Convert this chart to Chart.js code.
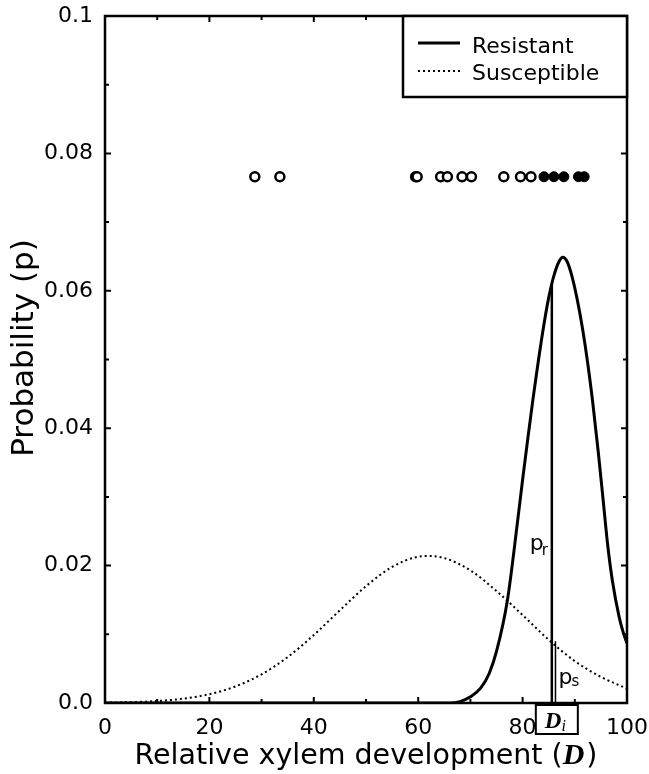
<!DOCTYPE html>
<html>
<head>
<meta charset="utf-8">
<script src="https://cdn.jsdelivr.net/npm/chart.js@4.4.1/dist/chart.umd.min.js"></script>
<style>
  html, body { margin: 0; padding: 0; background: #fff; }
  #wrap { width: 649px; height: 774px; position: relative; }
</style>
</head>
<body>
<div id="wrap"><canvas id="xylemChart"></canvas></div>
<script>
// probability curves
const susceptibleD = [0, 5, 10, 15, 20, 25, 30, 35, 40, 45, 50, 55, 60, 62, 65, 70, 75, 80, 85, 90, 95, 100];
const susceptibleP = [0.00005, 0.00012, 0.00029, 0.00063, 0.00128, 0.00241, 0.00418, 0.00669, 0.00989, 0.0135, 0.0170, 0.0198, 0.0213, 0.0214, 0.0211, 0.0193, 0.0163, 0.0128, 0.0092, 0.0061, 0.0038, 0.0021];

const resistantD = [0, 66, 68, 70, 72, 73.6, 75, 77.1, 79, 80, 81, 82, 83, 84, 85, 86, 87, 87.7, 88.5, 89.5, 90.5, 91.5, 92.5, 93.4, 94.5, 95.5, 96.3, 97.2, 98.5, 99.3, 100];
const resistantP = [0, 0, 0.0002, 0.0009, 0.0022, 0.0043, 0.0075, 0.015, 0.0262, 0.0325, 0.0385, 0.0443, 0.0497, 0.0547, 0.0590, 0.0622, 0.0643, 0.0649, 0.0643, 0.0620, 0.0586, 0.0544, 0.0493, 0.0440, 0.0365, 0.0290, 0.0230, 0.0178, 0.0125, 0.0102, 0.0087];

// observed clones (open = susceptible, filled = resistant)
const openD = [28.7, 33.5, 59.5, 59.8, 64.3, 65.6, 68.4, 70.2, 76.4, 79.6, 81.6];
const filledD = [84.1, 86.0, 87.9, 90.7, 91.8];
const observedLevel = 0.0766;

// D_i marker and the two probabilities read at it
const diD = 85.6;
const prValue = 0.061;
const psD = 86.3;
const psValue = 0.0090;

const xTickStep = 20;
const yTickStep = 0.02;

const pts = (xs, ys) => xs.map((d, i) => ({ x: d, y: ys[i] }));

const framePlugin = {
  id: 'frame',
  afterDraw(chart) {
    const ctx = chart.ctx;
    const a = chart.chartArea;
    const x = chart.scales.x;
    const y = chart.scales.y;
    ctx.save();
    ctx.strokeStyle = '#000';
    ctx.fillStyle = '#000';
    ctx.lineWidth = 2.5;
    ctx.strokeRect(a.left, a.top, a.right - a.left, a.bottom - a.top);

    // inward ticks on all four sides
    ctx.lineWidth = 2;
    ctx.beginPath();
    for (let v = 0; v <= 100; v += 10) {
      const px = x.getPixelForValue(v);
      const len = v % xTickStep === 0 ? 6 : 4;
      ctx.moveTo(px, a.bottom); ctx.lineTo(px, a.bottom - len);
      ctx.moveTo(px, a.top); ctx.lineTo(px, a.top + len);
    }
    for (let i = 0; i <= 10; i++) {
      const py = y.getPixelForValue(i * 0.01);
      const len = i % 2 === 0 ? 6 : 4;
      ctx.moveTo(a.left, py); ctx.lineTo(a.left + len, py);
      ctx.moveTo(a.right, py); ctx.lineTo(a.right - len, py);
    }
    ctx.stroke();

    // legend box
    const lx = a.right - 224, ly = a.top, lw = 224, lh = 81;
    ctx.fillStyle = '#fff';
    ctx.fillRect(lx, ly, lw, lh);
    ctx.lineWidth = 2.5;
    ctx.strokeRect(lx, ly, lw, lh);
    ctx.fillStyle = '#000';
    ctx.font = '22px "DejaVu Sans"';
    ctx.textBaseline = 'alphabetic';
    ctx.textAlign = 'left';
    ctx.lineWidth = 3;
    ctx.beginPath(); ctx.moveTo(lx + 15, ly + 27); ctx.lineTo(lx + 57, ly + 27); ctx.stroke();
    ctx.fillText(chart.data.datasets[0].label, lx + 69, ly + 37);
    ctx.lineWidth = 2;
    ctx.setLineDash([2, 3]);
    ctx.beginPath(); ctx.moveTo(lx + 15, ly + 55); ctx.lineTo(lx + 57, ly + 55); ctx.stroke();
    ctx.setLineDash([]);
    ctx.fillText(chart.data.datasets[1].label, lx + 69, ly + 64);

    // p_r and p_s labels
    const dpx = x.getPixelForValue(diD);
    ctx.font = '22px "DejaVu Sans"';
    ctx.fillText('p', dpx - 22, y.getPixelForValue(0.0222));
    ctx.font = '15px "DejaVu Sans"';
    ctx.fillText('r', dpx - 10, y.getPixelForValue(0.0215));
    const spx = x.getPixelForValue(psD);
    ctx.font = '22px "DejaVu Sans"';
    ctx.fillText('p', spx + 3, y.getPixelForValue(0.0028));
    ctx.font = '15px "DejaVu Sans"';
    ctx.fillText('s', spx + 16, y.getPixelForValue(0.0025));

    // D_i box under the axis
    ctx.lineWidth = 2;
    ctx.fillStyle = '#fff';
    ctx.fillRect(dpx - 16, a.bottom + 2, 42, 29);
    ctx.strokeRect(dpx - 16, a.bottom + 2, 42, 29);
    ctx.fillStyle = '#000';
    ctx.font = 'bold italic 23px "Liberation Serif"';
    ctx.fillText('D', dpx - 7, a.bottom + 25);
    const dw = ctx.measureText('D').width;
    ctx.font = 'italic 16px "Liberation Serif"';
    ctx.fillText('i', dpx - 7 + dw, a.bottom + 28);

    // x title with italic D
    const t1 = 'Relative xylem development (';
    const t2 = 'D';
    const t3 = ')';
    const f1 = '28.5px "DejaVu Sans"';
    const f2 = 'bold italic 30px "Liberation Serif"';
    ctx.font = f1;
    const w1 = ctx.measureText(t1).width;
    const w3 = ctx.measureText(t3).width;
    ctx.font = f2;
    const w2 = ctx.measureText(t2).width + 2;
    let tx = (a.left + a.right) / 2 - (w1 + w2 + w3) / 2;
    const ty = 764;
    ctx.font = f1; ctx.fillText(t1, tx, ty); tx += w1;
    ctx.font = f2; ctx.fillText(t2, tx, ty); tx += w2;
    ctx.font = f1; ctx.fillText(t3, tx, ty);

    // y title
    ctx.translate(33, 348);
    ctx.rotate(-Math.PI / 2);
    ctx.textAlign = 'center';
    ctx.font = '31px "DejaVu Sans"';
    ctx.fillText('Probability (p)', 0, 0);
    ctx.restore();
  }
};

new Chart(document.getElementById('xylemChart'), {
  type: 'scatter',
  data: {
    datasets: [
      {
        label: 'Resistant',
        data: pts(resistantD, resistantP),
        showLine: true,
        borderColor: '#000',
        borderWidth: 3,
        pointRadius: 0,
        cubicInterpolationMode: 'monotone'
      },
      {
        label: 'Susceptible',
        data: pts(susceptibleD, susceptibleP),
        showLine: true,
        borderColor: '#000',
        borderWidth: 2,
        borderDash: [2, 3],
        pointRadius: 0,
        cubicInterpolationMode: 'monotone'
      },
      {
        label: 'p_r',
        data: [{ x: diD, y: 0 }, { x: diD, y: prValue }],
        showLine: true,
        borderColor: '#000',
        borderWidth: 2.5,
        pointRadius: 0
      },
      {
        label: 'p_s',
        data: [{ x: psD, y: 0 }, { x: psD, y: psValue }],
        showLine: true,
        borderColor: '#000',
        borderWidth: 1.5,
        pointRadius: 0
      },
      {
        label: 'observed susceptible',
        data: openD.map(d => ({ x: d, y: observedLevel })),
        pointRadius: 4.5,
        pointBorderWidth: 2.5,
        pointBorderColor: '#000',
        pointBackgroundColor: '#fff'
      },
      {
        label: 'observed resistant',
        data: filledD.map(d => ({ x: d, y: observedLevel })),
        pointRadius: 5,
        pointBorderWidth: 1,
        pointBorderColor: '#000',
        pointBackgroundColor: '#000'
      }
    ]
  },
  options: {
    responsive: true,
    maintainAspectRatio: false,
    animation: false,
    layout: { padding: { top: 16, right: 22, left: 0, bottom: 0 } },
    plugins: {
      legend: { display: false },
      tooltip: { enabled: false }
    },
    scales: {
      x: {
        type: 'linear',
        min: 0,
        max: 100,
        grid: { display: false, drawTicks: false },
        border: { display: false },
        ticks: {
          stepSize: xTickStep,
          padding: 12,
          color: '#000',
          maxRotation: 0,
          font: { family: 'DejaVu Sans', size: 22 }
        },
        afterFit: s => { s.height = 71; s.paddingLeft = 0; s.paddingRight = 0; }
      },
      y: {
        min: 0,
        max: 0.1,
        grid: { display: false, drawTicks: false },
        border: { display: false },
        ticks: {
          stepSize: yTickStep,
          padding: 12,
          color: '#000',
          font: { family: 'DejaVu Sans', size: 22 },
          callback: v => (v === 0 ? '0.0' : Math.abs(v - 0.1) < 1e-9 ? '0.1' : v.toFixed(2))
        },
        afterFit: s => { s.width = 105; s.paddingTop = 0; s.paddingBottom = 0; }
      }
    }
  },
  plugins: [framePlugin]
});
</script>
</body>
</html>
